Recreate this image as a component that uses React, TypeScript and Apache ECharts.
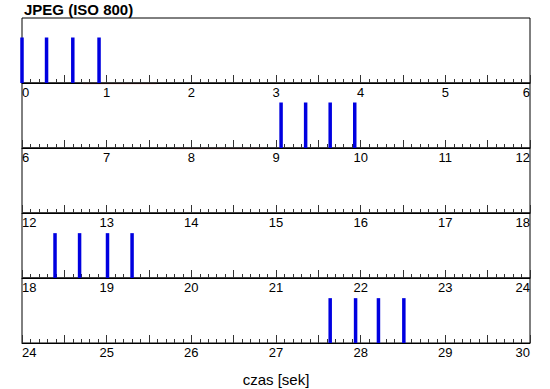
import React, { useEffect, useRef } from "react";
import * as echarts from "echarts";

// Row windows (seconds): each strip spans 6 s
const rowStarts = [0, 6, 12, 18, 24];
const rowSpan = 6;
// Frame capture times (seconds)
const frameTimes = [
  0.0, 0.29, 0.6, 0.91,
  9.06, 9.35, 9.64, 9.93,
  18.39, 18.68, 19.01, 19.3,
  27.64, 27.94, 28.21, 28.51,
];
// Relative marker heights
const frameHeights = [
  0.7, 0.7, 0.7, 0.7,
  0.7, 0.7, 0.7, 0.7,
  0.69, 0.69, 0.69, 0.69,
  0.69, 0.69, 0.69, 0.69,
];
// Faint red segments lying on the axes [start, end]
const faintSegments = [
  [0.72, 1.59],
  [7.8, 8.85],
];
const titleText = "JPEG (ISO 800)";
const axisTitle = "czas [sek]";

const FONT = "'Liberation Sans', Arial, Helvetica, sans-serif";

export default function App() {
  const ref = useRef<HTMLDivElement>(null);
  useEffect(() => {
    if (!ref.current) return;
    const chart = echarts.init(ref.current, undefined, { renderer: "svg" });
    const top0 = 18;
    const rowH = 65;
    const grids = rowStarts.map((_, i) => ({
      left: 22,
      right: 20,
      top: top0 + i * rowH,
      height: rowH,
      show: true,
      borderColor: "#000",
      borderWidth: 1,
      backgroundColor: "transparent",
    }));
    const xAxes = rowStarts.map((s, i) => ({
      gridIndex: i,
      type: "value",
      min: s,
      max: s + rowSpan,
      interval: 0.5,
      name: i === rowStarts.length - 1 ? axisTitle : "",
      nameLocation: "middle",
      nameGap: 29,
      nameTextStyle: { fontSize: 15, color: "#000", fontFamily: FONT },
      axisLine: { show: true, onZero: false, lineStyle: { color: "#000", width: 1 } },
      axisTick: { show: true, inside: true, length: 8, lineStyle: { color: "#333", width: 1 } },
      minorTick: { show: true, splitNumber: 5, length: 4, lineStyle: { color: "#333", width: 1 } },
      splitLine: { show: false },
      minorSplitLine: { show: false },
      axisLabel: {
        show: true,
        margin: 3,
        fontSize: 13,
        color: "#000",
        fontFamily: FONT,
        showMinLabel: true,
        showMaxLabel: true,
        alignMinLabel: "left",
        alignMaxLabel: "right",
        formatter: (v: number) => (Math.abs(v - Math.round(v)) < 1e-6 ? String(Math.round(v)) : ""),
      },
    }));
    const yAxes = rowStarts.map((_, i) => ({
      gridIndex: i,
      type: "value",
      min: 0,
      max: 1,
      show: false,
    }));
    const series: any[] = [];
    rowStarts.forEach((s, i) => {
      const pts: number[][] = [];
      frameTimes.forEach((t, k) => {
        if (t >= s && t < s + rowSpan) pts.push([t, frameHeights[k]]);
      });
      if (pts.length) {
        series.push({
          type: "bar",
          xAxisIndex: i,
          yAxisIndex: i,
          data: pts,
          barWidth: 3.5,
          clip: false,
          itemStyle: { color: "#0000e0" },
          silent: true,
        });
      }
      faintSegments.forEach(([a, b]) => {
        if (a >= s && a < s + rowSpan) {
          series.push({
            type: "line",
            xAxisIndex: i,
            yAxisIndex: i,
            data: [[a, -0.015], [b, -0.015]],
            symbol: "none",
            clip: false,
            lineStyle: { color: "rgba(190,90,90,0.22)", width: 1 },
            silent: true,
            z: 1,
          });
        }
      });
    });
    chart.setOption({
      animation: false,
      backgroundColor: "#fff",
      title: {
        text: titleText,
        left: 24,
        top: 2,
        padding: 0,
        textStyle: { fontSize: 15, fontWeight: "bold", color: "#000", fontFamily: FONT },
      },
      grid: grids,
      xAxis: xAxes,
      yAxis: yAxes,
      series,
    });
    return () => chart.dispose();
  }, []);
  return (
    <div
      ref={ref}
      style={{ position: "fixed", left: 0, top: 0, width: 550, height: 389, background: "#fff" }}
    />
  );
}
